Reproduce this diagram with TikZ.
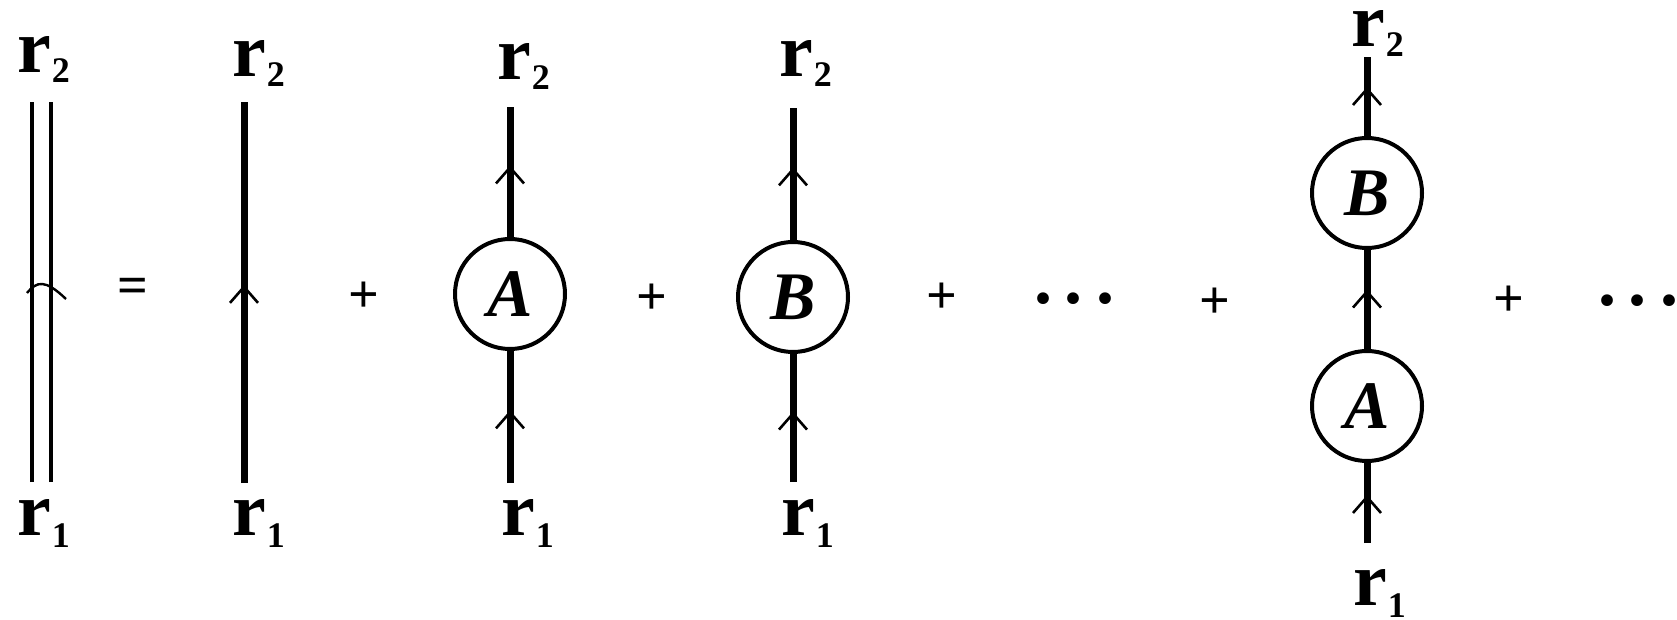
\documentclass[tikz,border=0pt]{standalone}
\usepackage{fontspec}
\setmainfont{Liberation Serif}
\usetikzlibrary{arrows.meta,decorations.markings}
\newcommand{\rsub}[2][5pt]{r\rlap{\kern0.5pt\raisebox{-#1}{\fontsize{18}{18}\selectfont #2}}}
\newcommand{\threedots}{.\kern6.5pt.\kern6.5pt.}
\tikzset{
  prop/.style={line width=3.5pt},
  dbl/.style={line width=2pt},
  blob/.style={circle, draw, line width=2pt, minimum size=55pt, inner sep=0pt, font=\fontsize{34}{34}\selectfont\bfseries\itshape},
  lbl/.style={anchor=base, inner sep=0pt, font=\fontsize{38}{38}\selectfont\bfseries},
  op/.style={inner sep=0pt, font=\fontsize{27}{27}\selectfont\bfseries},
  dots/.style={anchor=base, inner sep=0pt, font=\fontsize{36}{36}\selectfont\bfseries},
  midarrow/.style={postaction={decorate, decoration={markings, mark=at position #1 with {\arrow{Straight Barb[length=8pt, width=14pt, line width=1.3pt]}}}}},
}
\begin{document}
\begin{tikzpicture}[x=0.5pt, y=-0.5pt]
\useasboundingbox (0,0) rectangle (1677,620);
% diagram 0: double line
\node[lbl] (t0) at (34,73) {\rsub{2}};
\node[lbl] (b0) at (34,535) {\rsub[6pt]{1}};
\coordinate (t0a) at (32,102);
\coordinate (t0b) at (51,102);
\coordinate (b0a) at (32,482);
\coordinate (b0b) at (51,482);
\draw[dbl] (b0a) -- (t0a);
\draw[dbl] (b0b) -- (t0b);
\draw[line width=1.2pt] (27,293) .. controls (37,281) and (45,279) .. (66,299);
\node[op] (eq) at (133,291) {=};
% diagram 1: bare line
\node[lbl] (t1) at (249,77) {\rsub{2}};
\node[lbl] (b1) at (249,535) {\rsub[6pt]{1}};
\coordinate (t1e) at (244,102);
\coordinate (b1e) at (244,483);
\draw[prop, midarrow=0.52] (b1e) -- (t1e);
\node[op] (p1) at (364,297) {+};
% diagram 2: A
\node[lbl] (t2) at (514,80) {\rsub{2}};
\node[lbl] (b2) at (518,535) {\rsub[6pt]{1}};
\node[blob] (cA) at (510,294) {A};
\coordinate (t2e) at (510,107);
\coordinate (b2e) at (510,483);
\draw[prop, midarrow=0.55] (b2e) -- (cA.south);
\draw[prop, midarrow=0.55] (cA.north) -- (t2e);
\node[op] (p2) at (652,299) {+};
% diagram 3: B
\node[lbl] (t3) at (796,77) {\rsub{2}};
\node[lbl] (b3) at (798,535) {\rsub[6pt]{1}};
\node[blob] (cB) at (793,297) {B};
\coordinate (t3e) at (793,108);
\coordinate (b3e) at (793,482);
\draw[prop, midarrow=0.55] (b3e) -- (cB.south);
\draw[prop, midarrow=0.55] (cB.north) -- (t3e);
\node[op] (p3) at (942,298) {+};
\node[dots] (d1) at (1074,304) {\threedots};
\node[op] (p4) at (1215,303) {+};
% diagram 4: A then B
\node[lbl] (t4) at (1368,47) {\rsub{2}};
\node[lbl] (b4) at (1370,605) {\rsub[6pt]{1}};
\node[blob] (cB2) at (1367,193) {B};
\node[blob] (cA2) at (1367,406) {A};
\coordinate (t4e) at (1367,57);
\coordinate (b4e) at (1367,543);
\draw[prop, midarrow=0.6] (b4e) -- (cA2.south);
\draw[prop, midarrow=0.6] (cA2.north) -- (cB2.south);
\draw[prop, midarrow=0.62] (cB2.north) -- (t4e);
\node[op] (p5) at (1509,301) {+};
\node[dots] (d2) at (1638,306) {\threedots};
\end{tikzpicture}
\end{document}
